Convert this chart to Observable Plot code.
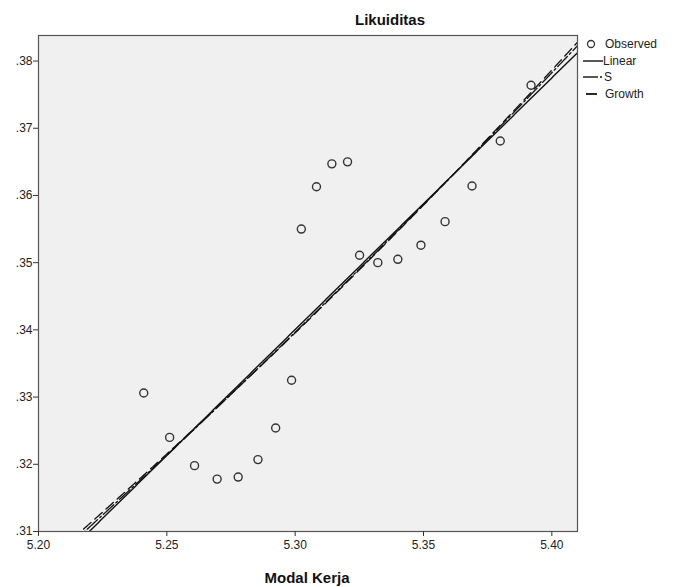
<!DOCTYPE html>
<html>
<head>
<meta charset="utf-8">
<script src="https://cdn.jsdelivr.net/npm/d3@7"></script>
<script src="https://cdn.jsdelivr.net/npm/@observablehq/plot@0.6"></script>
<style>
  html, body { margin: 0; padding: 0; background: #fff; }
  #chart { width: 678px; height: 587px; }
</style>
</head>
<body>
<div id="chart"></div>
<script>
// Observed data (Modal Kerja vs Likuiditas)
const modalKerja = [5.2410, 5.2511, 5.2608, 5.2696, 5.2778, 5.2855, 5.2924, 5.2986, 5.3024, 5.3083,
                    5.3143, 5.3204, 5.3251, 5.3322, 5.3400, 5.3490, 5.3584, 5.3689, 5.3799, 5.3919];
const likuiditas = [0.3306, 0.3240, 0.3198, 0.3178, 0.3181, 0.3207, 0.3254, 0.3325, 0.3550, 0.3613,
                    0.3647, 0.3650, 0.3511, 0.3500, 0.3505, 0.3526, 0.3561, 0.3614, 0.3681, 0.3764];
const xTicks = [5.20, 5.25, 5.30, 5.35, 5.40];
const yTicks = [0.31, 0.32, 0.33, 0.34, 0.35, 0.36, 0.37, 0.38];
const legendLabels = ["Observed", "Linear", "S", "Growth"];
const titleText = "Likuiditas";
const xTitle = "Modal Kerja";

const observed = modalKerja.map((x, i) => ({x, y: likuiditas[i]}));

// Ordinary least squares
function ols(xs, ys) {
  const mx = d3.mean(xs), my = d3.mean(ys);
  let sxy = 0, sxx = 0;
  xs.forEach((x, i) => { sxy += (x - mx) * (ys[i] - my); sxx += (x - mx) ** 2; });
  const b1 = sxy / sxx;
  return {b0: my - b1 * mx, b1};
}
const lin = ols(modalKerja, likuiditas);
const lnY = likuiditas.map(Math.log);
const grow = ols(modalKerja, lnY);
const sFit = ols(modalKerja.map(x => 1 / x), lnY);

const xDomain = [5.20, 5.41];
const grid = d3.range(xDomain[0], xDomain[1] + 1e-9, 0.0005);
const linearCurve = grid.map(x => ({x, y: lin.b0 + lin.b1 * x}));
const growthCurve = grid.map(x => ({x, y: Math.exp(grow.b0 + grow.b1 * x)}));
const sCurve = grid.map(x => ({x, y: Math.exp(sFit.b0 + sFit.b1 / x)}));

const fmtY = d => d3.format(".2f")(d).replace(/^0/, "");
const FONT = "'Liberation Sans', Arial, sans-serif";

const chart = Plot.plot({
  width: 678,
  height: 587,
  marginLeft: 38,
  marginRight: 101,
  marginTop: 35,
  marginBottom: 56,
  style: {background: "#fff", fontFamily: FONT, fontSize: "12px", color: "#222"},
  x: {domain: xDomain},
  y: {domain: [0.31, 0.3838]},
  marks: [
    Plot.frame({fill: "#f0f0f0", stroke: null}),
    Plot.line(sCurve, {x: "x", y: "y", stroke: "#111", strokeWidth: 1.3, strokeDasharray: "14,3,2,3", clip: "frame"}),
    Plot.line(growthCurve, {x: "x", y: "y", stroke: "#111", strokeWidth: 1.3, strokeDasharray: "10,5", clip: "frame"}),
    Plot.line(linearCurve, {x: "x", y: "y", stroke: "#111", strokeWidth: 1.4, clip: "frame"}),
    Plot.dot(observed, {x: "x", y: "y", r: 4, stroke: "#333", strokeWidth: 1.4, fill: "none"}),
    Plot.frame({stroke: "#555", strokeWidth: 1.2}),
    Plot.axisX({ticks: xTicks, tickFormat: d3.format(".2f"), tickSize: 5, tickPadding: 4, label: null, stroke: "#333"}),
    Plot.axisY({ticks: yTicks, tickFormat: fmtY, tickSize: 5, tickPadding: 1, label: null, stroke: "#333"})
  ]
});
document.getElementById("chart").appendChild(chart);

// Title, axis title and legend
const svg = d3.select(chart);
svg.append("text").attr("x", 390).attr("y", 25).attr("text-anchor", "middle")
  .attr("font-family", FONT).attr("font-weight", "bold").attr("font-size", 15)
  .attr("fill", "#111").text(titleText);
svg.append("text").attr("x", 307).attr("y", 583).attr("text-anchor", "middle")
  .attr("font-family", FONT).attr("font-weight", "bold").attr("font-size", 15)
  .attr("fill", "#111").text(xTitle);

const lg = svg.append("g").attr("font-family", FONT).attr("font-size", 12).attr("fill", "#222").attr("text-anchor", "start");
const rowY = [44, 61, 77, 94];
lg.append("circle").attr("cx", 591).attr("cy", rowY[0]).attr("r", 3.5).attr("fill", "none").attr("stroke", "#333").attr("stroke-width", 1.3);
lg.append("line").attr("x1", 583).attr("x2", 603).attr("y1", rowY[1]).attr("y2", rowY[1]).attr("stroke", "#111").attr("stroke-width", 1.4);
lg.append("line").attr("x1", 583).attr("x2", 598).attr("y1", rowY[2]).attr("y2", rowY[2]).attr("stroke", "#111").attr("stroke-width", 1.4);
lg.append("line").attr("x1", 600).attr("x2", 602).attr("y1", rowY[2]).attr("y2", rowY[2]).attr("stroke", "#111").attr("stroke-width", 1.4);
lg.append("line").attr("x1", 586).attr("x2", 597).attr("y1", rowY[3]).attr("y2", rowY[3]).attr("stroke", "#111").attr("stroke-width", 1.8);
const textX = [605, 603, 604, 605];
legendLabels.forEach((t, i) => {
  lg.append("text").attr("x", textX[i]).attr("y", rowY[i] + 4).attr("text-anchor", "start").text(t);
});
</script>
</body>
</html>
